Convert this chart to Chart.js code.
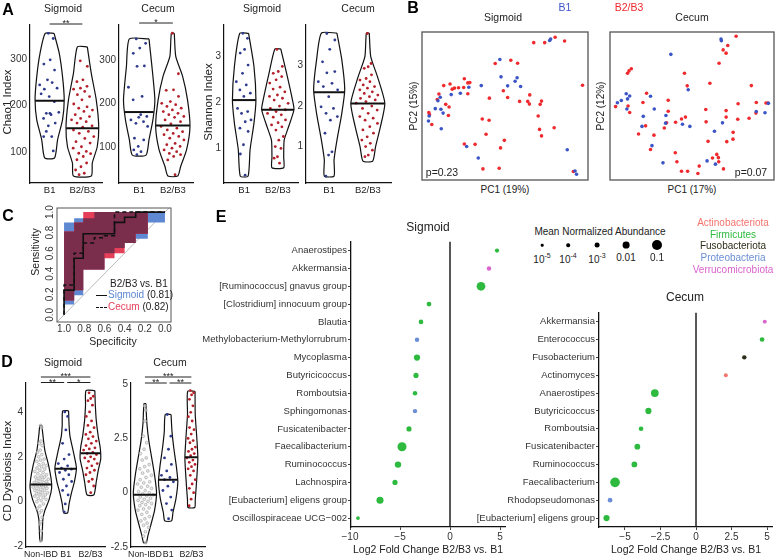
<!DOCTYPE html>
<html>
<head>
<meta charset="utf-8">
<title>Figure</title>
<script src="https://cdn.jsdelivr.net/npm/chart.js@4.4.1/dist/chart.umd.min.js"></script>
<style>
  html, body { margin:0; padding:0; background:#fff; }
  body { position:relative; width:777px; height:560px; overflow:hidden; font-family:'Liberation Sans', Arial, sans-serif; color:#222; }
  canvas { position:absolute; }
  .t { position:absolute; white-space:nowrap; transform:translate(-50%,-50%); line-height:1; }
  .v { position:absolute; white-space:nowrap; transform:translate(-50%,-50%) rotate(-90deg); line-height:1; }
  .l { position:absolute; white-space:nowrap; transform:translateY(-50%); line-height:1; }
  .L { position:absolute; font-weight:bold; font-size:16px; transform:translate(-50%,-50%); line-height:1; color:#000; }
  .ln { display:inline-block; width:11px; border-top:1.5px solid #111; vertical-align:middle; margin-right:1px; }
  .dash { border-top-style:dashed; }
  .dot { position:absolute; border-radius:50%; background:#000; transform:translate(-50%,-50%); }
  sup { font-size:7px; vertical-align:5px; }
</style>
</head>
<body>
<canvas id="a1" width="106" height="200" style="left:0;top:0"></canvas>
<canvas id="a2" width="107" height="200" style="left:90px;top:0"></canvas>
<canvas id="a3" width="106" height="200" style="left:196px;top:0"></canvas>
<canvas id="a4" width="105" height="200" style="left:290px;top:0"></canvas>
<canvas id="b1" width="174" height="156" style="left:418px;top:28px"></canvas>
<canvas id="b2" width="172" height="156" style="left:606px;top:28px"></canvas>
<canvas id="roc" width="150" height="140" style="left:25px;top:200px"></canvas>
<canvas id="d1" width="110" height="200" style="left:0;top:360px"></canvas>
<canvas id="d2" width="106" height="200" style="left:104px;top:360px"></canvas>
<canvas id="e1" width="340" height="325" style="left:170px;top:235px"></canvas>
<canvas id="e2" width="307" height="254" style="left:470px;top:306px"></canvas>

<!-- A -->
<div class="L" style="left:8px;top:10px">A</div>
<div class="t" style="left:63px;top:8px;font-size:10.5px">Sigmoid</div>
<div class="t" style="left:158px;top:8px;font-size:10.5px">Cecum</div>
<div class="t" style="left:262px;top:8px;font-size:10.5px">Sigmoid</div>
<div class="t" style="left:358px;top:8px;font-size:10.5px">Cecum</div>
<div class="v" style="left:8px;top:102px;font-size:11.5px">Chao1 Index</div>
<div class="v" style="left:209px;top:102px;font-size:11.5px">Shannon Index</div>
<!-- B -->
<div class="L" style="left:413px;top:8px">B</div>
<div class="t" style="left:565px;top:7px;font-size:10.5px;color:#3B55C6">B1</div>
<div class="t" style="left:629px;top:7px;font-size:10.5px;color:#EE2A2E">B2/B3</div>
<div class="t" style="left:503px;top:17px;font-size:10.5px">Sigmoid</div>
<div class="t" style="left:692px;top:17px;font-size:10.5px">Cecum</div>
<div class="v" style="left:414px;top:106px;font-size:10px">PC2 (15%)</div>
<div class="v" style="left:601px;top:106px;font-size:10px">PC2 (12%)</div>
<div class="t" style="left:505px;top:190px;font-size:10px">PC1 (19%)</div>
<div class="t" style="left:692px;top:190px;font-size:10px">PC1 (17%)</div>
<div class="t" style="left:442px;top:172px;font-size:10.5px">p=0.23</div>
<div class="t" style="left:751px;top:172px;font-size:10.5px">p=0.07</div>
<!-- C -->
<div class="L" style="left:8px;top:216px">C</div>
<div class="v" style="left:35px;top:252px;font-size:10.5px">Sensitivity</div>
<div class="t" style="left:113px;top:341px;font-size:10.5px">Specificity</div>
<div class="l" style="left:110px;top:284px;font-size:10px">B2/B3 vs. B1</div>
<div class="l" style="left:96px;top:295px;font-size:10px"><span class="ln"></span><span style="color:#5E88D2">Sigmoid</span> (0.81)</div>
<div class="l" style="left:96px;top:307px;font-size:10px"><span class="ln dash"></span><span style="color:#E63F5A">Cecum</span> (0.82)</div>
<!-- D -->
<div class="L" style="left:7px;top:362px">D</div>
<div class="t" style="left:63px;top:362px;font-size:10.5px">Sigmoid</div>
<div class="t" style="left:170px;top:362px;font-size:10.5px">Cecum</div>
<div class="v" style="left:8px;top:471px;font-size:11.5px">CD Dysbiosis Index</div>
<!-- E -->
<div class="L" style="left:221px;top:217px">E</div>
<div class="t" style="left:428px;top:227px;font-size:12px">Sigmoid</div>
<div class="t" style="left:685px;top:297px;font-size:12px">Cecum</div>
<div class="t" style="left:428px;top:549px;font-size:10.5px">Log2 Fold Change B2/B3 vs. B1</div>
<div class="t" style="left:686px;top:549px;font-size:10.5px">Log2 Fold Change B2/B3 vs. B1</div>
<div class="t" style="left:600px;top:232px;font-size:10px">Mean Normalized Abundance</div>
<div id="legend"></div>

<script>
const FONT = "'Liberation Sans', Arial, sans-serif";
Chart.defaults.font.family = FONT;
Chart.defaults.font.size = 10;
Chart.defaults.color = '#333';
Chart.defaults.animation = false;
Chart.defaults.events = [];
Chart.defaults.plugins.legend.display = false;
Chart.defaults.plugins.tooltip.enabled = false;

// ---- A: alpha diversity (B1 vs B2/B3) ----
const groupsA = ['B1', 'B2/B3'];
const chaoSigmoidB1 = [355,344,298,289,276,255,244,249,235,237,219,225,208,183,185,180,172,162,156,133,133,144,102,183];
const chaoSigmoidB23 = [296,284,255,251,241,237,235,230,223,219,212,203,197,194,190,187,180,176,172,169,165,162,156,153,147,144,140,133,129,122,119,111,108,101,97,96,90,83,76,68,61,54,51];
const chaoCecumB1 = [348,338,327,315,286,285,237,216,208,170,168,162,158,154,147,174,120,116,101,93,89,82];
const chaoCecumB23 = [361,268,231,230,216,204,200,197,193,189,185,181,177,174,170,168,162,158,153,147,143,139,135,131,128,124,120,116,108,105,101,97,93,89,85,82,78,70,36];
const shannonSigmoidB1 = [3.49,3.38,3.14,3.06,2.80,2.62,2.44,2.37,2.26,2.19,2.12,1.86,1.79,1.75,1.61,1.57,1.43,1.36,1.07,0.87,0.41];
const shannonSigmoidB23 = [3.14,2.77,2.66,2.62,2.55,2.48,2.41,2.32,2.28,2.22,2.15,2.12,2.08,2.04,1.97,1.91,1.86,1.83,1.79,1.75,1.72,1.67,1.61,1.55,1.50,1.46,1.39,1.25,1.17,1.03,0.99,0.81,0.78,0.67];
const shannonCecumB1 = [3.79,3.63,3.40,3.09,2.85,2.82,2.60,2.56,2.48,2.40,2.23,1.98,1.94,1.82,1.74,1.65,1.33,0.87,0.79,0.27];
const shannonCecumB23 = [3.79,3.05,2.97,2.93,2.77,2.68,2.64,2.60,2.52,2.48,2.44,2.40,2.35,2.31,2.27,2.23,2.19,2.15,2.11,2.07,2.0,1.94,1.90,1.82,1.74,1.70,1.65,1.57,1.49,1.41,1.33,1.24,1.16,1.08,1.0,0.91,0.79,0.75];
const chaoSigmoidMed = [210, 151];
const chaoCecumMed = [180, 149];
const shannonSigmoidMed = [2.04, 1.83];
const shannonCecumMed = [2.34, 2.06];
// violin outlines: [value, relative density]
const chaoSigmoidShape = [
  [[355,4.5],[312,9.7],[262,13],[212,14.7],[169,13],[126,8],[87,5]],
  [[326,5],[269,9],[212,14],[154,16.5],[111,15],[76,10],[48,9]]];
const chaoCecumShape = [
  [[348,10],[285,13],[208,16],[162,14],[116,10],[81,7]],
  [[361,1.5],[308,3],[262,10],[208,15],[147,17.5],[93,14],[55,8],[33,5]]];
const shannonSigmoidShape = [
  [[3.49,4.5],[2.77,10],[2.04,12],[1.54,10],[0.96,6],[0.39,4]],
  [[3.15,3],[2.62,9],[2.04,15],[1.83,16.5],[1.46,11],[1.17,6.5],[0.8,6],[0.57,6]]];
const shannonCecumShape = [
  [[3.8,8],[3.14,13],[2.4,16],[1.82,13],[1.16,8],[0.67,5],[0.27,5]],
  [[3.8,1.5],[3.22,3],[2.72,10],[2.07,17.5],[1.49,13],[1.0,8],[0.64,5]]];

// ---- D: dysbiosis index ----
const groupsD = ['Non-IBD', 'B1', 'B2/B3'];
const dysSigmoidNon = [3.4,3.3,2.7,2.6,2.5,2.3,2.2,2.1,2.0,1.9,1.85,1.8,1.7,1.65,1.6,1.55,1.5,1.45,1.4,1.35,1.3,1.25,1.2,1.15,1.1,1.1,1.05,1.0,1.0,0.95,0.9,0.9,0.85,0.85,0.8,0.8,0.75,0.75,0.7,0.7,0.65,0.65,0.6,0.6,0.55,0.5,0.5,0.45,0.4,0.4,0.35,0.3,0.3,0.25,0.2,0.15,0.1,0.05,0.0,-0.1,-0.2,-0.3,-0.4,-0.5,-0.7,-0.9,-1.0,-1.3,-1.75];
const dysSigmoidB1 = [4.0,3.8,3.2,2.6,2.1,1.9,1.7,1.6,1.5,1.45,1.4,1.3,1.2,1.0,0.9,0.7,0.5,0.3,-0.1,-0.45];
const dysSigmoidB23 = [4.85,4.7,4.6,4.5,4.3,4.0,3.8,3.6,3.4,3.3,3.1,3.0,2.9,2.8,2.7,2.6,2.5,2.4,2.35,2.3,2.2,2.15,2.1,2.0,1.95,1.9,1.8,1.7,1.6,1.5,1.4,1.3,1.2,1.0,0.9,0.7,0.4];
const dysCecumNon = [4.0,3.8,3.3,2.6,2.3,2.0,1.8,1.6,1.5,1.3,1.2,1.1,1.0,0.9,0.8,0.7,0.6,0.5,0.45,0.4,0.3,0.25,0.2,0.1,0.05,0.0,-0.05,-0.1,-0.15,-0.2,-0.25,-0.3,-0.35,-0.4,-0.45,-0.5,-0.55,-0.6,-0.7,-0.75,-0.8,-0.9,-1.0,-1.1,-1.2,-1.3,-1.4,-1.5,-1.6,-1.8,-2.0,-2.3];
const dysCecumB1 = [3.6,2.6,2.0,1.6,1.3,1.0,0.8,0.7,0.6,0.5,0.3,0.1,-0.2,-0.5,-0.8,-1.2];
const dysCecumB23 = [4.7,4.6,4.5,4.3,4.0,3.7,3.5,3.3,3.0,2.9,2.7,2.5,2.4,2.3,2.1,2.0,1.9,1.8,1.7,1.6,1.5,1.4,1.3,1.2,1.1,1.0,0.8,0.6,0.4,0.2,0.0,-0.3,-0.6];
const dysSigmoidMed = [0.77, 1.47, 2.16];
const dysCecumMed = [-0.1, 0.6, 1.63];
const dysSigmoidShape = [
  [[3.4,1],[3.0,2],[2.3,4],[1.6,8],[1.0,10.5],[0.6,11],[0.1,8.5],[-0.4,4],[-0.8,2],[-1.75,1]],
  [[4.05,3],[3.4,3.5],[2.9,4.5],[2.2,8],[1.5,11],[0.9,9],[0.4,6],[-0.1,3.5],[-0.5,2]],
  [[4.95,4.5],[4.3,5],[3.6,6],[2.9,8],[2.4,10],[1.9,10.5],[1.4,8],[0.9,6],[0.3,3.5]]];
const dysCecumShape = [
  [[4.1,1],[3.2,2],[2.4,4],[1.6,7],[0.8,10],[0.0,12],[-0.8,10],[-1.5,6],[-2.0,3],[-2.3,1.5]],
  [[3.6,3],[2.8,4],[2.0,6],[1.2,8.5],[0.5,10],[-0.3,8],[-0.9,5],[-1.3,3.5]],
  [[4.67,3.8],[3.6,4],[2.6,5.5],[1.6,6.7],[0.6,5.5],[-0.35,4],[-0.68,3.5]]];

// ---- B: PCA (scores scaled to the plot box, 0-100) ----
const sigmoidB23Pc1 = [67.3,73.9,80.2,85.9,44.1,53.5,57.6,25.5,28.8,27.6,13.1,16.9,19.6,18.2,22.0,25.1,10.2,27.6,40.6,49.0,51.6,58.8,64.9,63.7,64.7,72.0,71.2,9.2,14.3,16.3,4.1,4.5,15.9,5.9,36.3,40.4,70.0,70.8,79.6,72.0,38.6,49.6,47.3,25.5,32.0,36.7,46.5,91.2,96.7];
const sigmoidB23Pc2 = [92.8,92.8,96.5,93.9,78.7,80.9,78.9,68.4,65.8,65.6,63.8,64.9,62.1,61.4,62.3,62.5,58.1,58.3,55.3,60.3,55.7,53.1,57.5,53.1,51.3,53.3,51.1,54.4,51.1,49.3,45.6,44.3,43.6,37.5,41.2,40.4,43.2,34.2,35.3,29.8,30.9,26.8,21.7,24.3,24.1,7.5,7.9,5.7,64.0];
const sigmoidB1Pc1 = [76.9,77.5,46.9,47.6,56.1,57.3,51.6,59.4,35.7,28.2,23.1,17.6,11.0,9.6,8.0,11.4,12.7,4.3,3.9,11.6,26.9,33.9,87.5,92.2,93.1];
const sigmoidB1Pc2 = [94.3,95.2,81.4,69.7,66.7,69.1,63.6,63.2,63.8,62.7,58.6,57.7,55.9,53.5,48.2,47.8,45.2,43.2,39.9,34.6,22.6,14.9,20.4,6.1,3.9];
const cecumB23Pc1 = [76.9,71.8,69.0,70.8,66.5,13.0,11.6,10.7,45.4,47.1,60.9,86.2,22.3,3.4,11.0,12.0,20.1,35.5,35.5,58.4,70.8,78.1,89.2,95.1,96.3,89.0,46.0,43.6,40.0,34.5,33.1,21.7,17.4,26.8,24.7,58.6,70.8,77.9,84.8,75.1,75.0,71.2,59.8,39.8,40.8,43.6,47.3,53.6,54.4,65.1,66.1,62.5,66.3,69.2];
const cecumB23Pc2 = [97.1,90.9,87.9,85.7,78.9,75.2,73.7,72.1,72.1,63.6,65.4,63.8,58.6,49.6,50.0,45.6,52.4,53.9,46.5,47.6,46.9,51.5,52.4,52.0,52.0,45.2,42.5,41.2,39.0,38.6,35.1,36.6,31.1,30.3,20.6,39.3,42.5,41.0,41.7,32.2,27.6,25.9,26.1,18.4,12.3,5.9,5.9,4.4,9.4,17.3,15.1,14.9,12.3,7.5];
const cecumB1Pc1 = [67.7,67.9,37.1,47.7,9.9,12.0,6.9,4.5,10.7,10.3,24.7,27.0,20.3,34.1,19.5,33.9,44.2,48.7,63.7,68.6,25.6,32.3,59.2,64.3,89.2,94.5,96.6];
const cecumB1Pc2 = [95.2,94.1,84.9,61.0,58.3,56.8,53.7,52.2,54.8,48.0,56.6,48.0,43.0,43.6,36.2,38.4,37.7,36.2,32.9,38.6,23.2,11.6,12.9,10.7,46.3,45.4,51.8];

// ---- C: ROC ----
const rocTicks = [0, 0.2, 0.4, 0.6, 0.8, 1.0];
const rocSpec = [1.0, 0.9, 0.81, 0.7, 0.6, 0.5, 0.4, 0.29, 0.17, 0.0];
const sigmoidSens = [0.24, 0.55, 0.79, 0.79, 0.79, 0.90, 0.95, 1, 1];
const cecumSens = [0.29, 0.60, 0.70, 0.75, 0.77, 1, 1, 1, 1];
const sigmoidCiLow = [0.10, 0.19, 0.44, 0.44, 0.60, 0.65, 0.70, 0.74, 0.90];
const sigmoidCiHigh = [0.90, 0.94, 0.94, 1, 1, 1, 1, 1, 1];
const cecumCiLow = [0.14, 0.24, 0.44, 0.44, 0.55, 0.60, 0.70, 0.79, 1.0];
const cecumCiHigh = [0.81, 0.90, 1, 1, 1, 1, 1, 1, 1];

// ---- E: differential genera ----
const sigmoidTaxa = ['Anaerostipes','Akkermansia','[Ruminococcus] gnavus group','[Clostridium] innocuum group','Blautia','Methylobacterium-Methylorrubrum','Mycoplasma','Butyricicoccus','Romboutsia','Sphingomonas','Fusicatenibacter','Faecalibacterium','Ruminococcus','Lachnospira','[Eubacterium] eligens group','Oscillospiraceae UCG\u2212002'];
const sigmoidLfc = [4.7, 3.9, 3.1, -2.1, -2.9, -3.3, -3.3, -3.4, -3.5, -3.5, -4.1, -4.8, -5.2, -5.5, -7.0, -9.2];
const sigmoidPhylum = ['Firmicutes','Verrucomicrobiota','Firmicutes','Firmicutes','Firmicutes','Proteobacteria','Firmicutes','Firmicutes','Firmicutes','Proteobacteria','Firmicutes','Firmicutes','Firmicutes','Firmicutes','Firmicutes','Firmicutes'];
const sigmoidAbund = [3e-4, 5e-4, 0.04, 1e-3, 8e-4, 5e-4, 5e-3, 1.5e-3, 6e-4, 5e-4, 1.5e-3, 0.05, 6e-3, 1.5e-3, 0.012, 1.5e-4];
const cecumTaxa = ['Akkermansia','Enterococcus','Fusobacterium','Actinomyces','Anaerostipes','Butyricicoccus','Romboutsia','Fusicatenibacter','Ruminococcus','Faecalibacterium','Rhodopseudomonas','[Eubacterium] eligens group'];
const cecumLfc = [4.84, 4.65, 3.4, 2.1, -2.9, -3.35, -3.87, -4.13, -4.34, -5.7, -6.05, -6.3];
const cecumPhylum = ['Verrucomicrobiota','Firmicutes','Fusobacteriota','Actinobacteriota','Firmicutes','Firmicutes','Firmicutes','Firmicutes','Firmicutes','Firmicutes','Proteobacteria','Firmicutes'];
const cecumAbund = [2e-4, 8e-4, 5e-4, 2e-4, 0.02, 5e-3, 8e-4, 3e-3, 3e-3, 0.08, 8e-4, 5e-3];
const legendAbund = [1e-5, 1e-4, 1e-3, 0.01, 0.1];
const legendAbundText = ['10<sup>-5</sup>', '10<sup>-4</sup>', '10<sup>-3</sup>', '0.01', '0.1'];

const phylumColors = {
  Actinobacteriota: '#F3756F',
  Firmicutes: '#2DBA3F',
  Fusobacteriota: '#2E2E1A',
  Proteobacteria: '#6B8ED6',
  Verrucomicrobiota: '#DA64CD'
};

// ---------- helpers ----------
function halfAt(shape, v) {
  if (v >= shape[0][0]) return shape[0][1];
  for (let i = 1; i < shape.length; i++) {
    if (v >= shape[i][0]) {
      const [v0, w0] = shape[i - 1], [v1, w1] = shape[i];
      return w1 + (w0 - w1) * (v - v1) / (v0 - v1);
    }
  }
  return shape[shape.length - 1][1];
}
function outline(shape, c, k) {
  const right = shape.map(([v, w]) => ({ x: c + w * k, y: v }));
  const left = shape.slice().reverse().map(([v, w]) => ({ x: c - w * k, y: v }));
  return right.concat(left, [right[0]]);
}
const jit = j => ((j * 0.6180339 + 0.3) % 1) - 0.5;

const sigPlugin = {
  id: 'sig',
  afterDraw(chart, args, opts) {
    const { ctx, chartArea, scales: { x } } = chart;
    (opts.bars || []).forEach(b => {
      const y = chartArea.top - b.dy;
      const x1 = x.getPixelForValue(b.from), x2 = x.getPixelForValue(b.to);
      ctx.save();
      ctx.strokeStyle = '#222'; ctx.lineWidth = 1;
      ctx.beginPath(); ctx.moveTo(x1, y); ctx.lineTo(x2, y); ctx.stroke();
      ctx.fillStyle = '#222'; ctx.font = '9px ' + FONT; ctx.textAlign = 'center';
      ctx.fillText(b.label, (x1 + x2) / 2, y + 2);
      ctx.restore();
    });
  }
};

const framePlugin = {
  id: 'frame',
  afterDatasetsDraw(chart, args, o) {
    const { ctx, chartArea: c } = chart;
    ctx.save();
    ctx.strokeStyle = o.color || '#555'; ctx.lineWidth = o.width || 1;
    ctx.strokeRect(c.left, c.top, c.right - c.left, c.bottom - c.top);
    ctx.restore();
  }
};

const zeroPlugin = {
  id: 'zero',
  beforeDatasetsDraw(chart) {
    const { ctx, chartArea: c, scales: { x } } = chart;
    const px = x.getPixelForValue(0);
    ctx.save();
    ctx.strokeStyle = '#111'; ctx.lineWidth = 1.4;
    ctx.beginPath(); ctx.moveTo(px, c.top); ctx.lineTo(px, c.bottom); ctx.stroke();
    ctx.restore();
  }
};

const rocYPlugin = {
  id: 'rocy',
  afterDraw(chart) {
    const { ctx, chartArea: c, scales: { y } } = chart;
    ctx.save();
    ctx.fillStyle = '#333'; ctx.font = '10px ' + FONT;
    ctx.textAlign = 'center'; ctx.textBaseline = 'middle';
    rocTicks.forEach(v => {
      ctx.save();
      ctx.translate(c.left - 7, y.getPixelForValue(v));
      ctx.rotate(-Math.PI / 2);
      ctx.fillText(v.toFixed(1), 0, 0);
      ctx.restore();
    });
    ctx.restore();
  }
};

function violin(id, cats, groups, o) {
  const maxD = Math.max(...groups.flatMap(g => g.shape.map(s => s[1])));
  const k = o.half / maxD;
  const ds = [];
  groups.forEach((g, i) => {
    const c = i + 1;
    const w = v => halfAt(g.shape, v) * k;
    ds.push({ data: outline(g.shape, c, k), showLine: true, borderColor: '#111', borderWidth: 1.2,
              pointRadius: 0, tension: 0.2, order: 3 });
    ds.push({ data: g.pts.map((v, j) => ({ x: c + jit(j) * 1.5 * w(v), y: v })),
              pointRadius: g.r || 1.4, pointBackgroundColor: g.fill, pointBorderColor: g.color,
              pointBorderWidth: g.bw || 0, order: 2 });
    ds.push({ data: [{ x: c - w(g.median), y: g.median }, { x: c + w(g.median), y: g.median }],
              showLine: true, borderColor: '#111', borderWidth: 2, pointRadius: 0, order: 1 });
  });
  return new Chart(document.getElementById(id), {
    type: 'scatter',
    data: { datasets: ds },
    options: {
      responsive: false,
      layout: { padding: { top: o.top, right: o.right, left: 0, bottom: 0 } },
      scales: {
        x: {
          type: 'linear', min: 0.4, max: cats.length + 0.6,
          afterBuildTicks: s => { s.ticks = cats.map((_, i) => ({ value: i + 1 })); },
          ticks: { callback: v => cats[v - 1], font: { size: o.xfs || 9.5 }, color: '#222', padding: 2, maxRotation: 0, autoSkip: false },
          grid: { display: false, drawTicks: false },
          border: { color: '#111', width: 1.2 },
          afterFit: s => { s.height = o.xh; }
        },
        y: {
          min: o.min, max: o.max,
          afterBuildTicks: s => { s.ticks = o.ticks.map(v => ({ value: v })); },
          ticks: { font: { size: 10 }, color: '#333', padding: 3 },
          grid: { display: false, drawTicks: false },
          border: { color: '#111', width: 1.2 },
          afterFit: s => { s.width = o.yw; }
        }
      },
      plugins: { sig: { bars: o.bars || [] } }
    },
    plugins: [sigPlugin]
  });
}

const colB1 = '#2E3A8C', colB23 = '#B3202A';
function abGroups(b1, b23, med, shape) {
  return [
    { pts: b1, median: med[0], shape: shape[0], fill: colB1, color: colB1 },
    { pts: b23, median: med[1], shape: shape[1], fill: colB23, color: colB23 }
  ];
}

// ---------- A ----------
violin('a1', groupsA, abGroups(chaoSigmoidB1, chaoSigmoidB23, chaoSigmoidMed, chaoSigmoidShape),
  { half: 0.50, min: 33, max: 373, ticks: [100, 200, 300], top: 25, right: 3, yw: 30, xh: 17,
    bars: [{ from: 1, to: 2, dy: 1, label: '**' }] });
violin('a2', groupsA, abGroups(chaoCecumB1, chaoCecumB23, chaoCecumMed, chaoCecumShape),
  { half: 0.51, min: 17, max: 380, ticks: [100, 200, 300], top: 25, right: 2, yw: 29, xh: 17,
    bars: [{ from: 1, to: 2, dy: 2, label: '*' }] });
violin('a3', groupsA, abGroups(shannonSigmoidB1, shannonSigmoidB23, shannonSigmoidMed, shannonSigmoidShape),
  { half: 0.48, min: 0.24, max: 3.67, ticks: [1, 2, 3], top: 25, right: 2, yw: 28, xh: 17 });
violin('a4', groupsA, abGroups(shannonCecumB1, shannonCecumB23, shannonCecumMed, shannonCecumShape),
  { half: 0.44, min: 0.1, max: 4.0, ticks: [1, 2, 3], top: 25, right: 2, yw: 16, xh: 17 });

// ---------- D ----------
const colNon = '#A8A8A8';
function dGroups(non, b1, b23, med, shape) {
  return [
    { pts: non, median: med[0], shape: shape[0], fill: 'rgba(215,215,215,0.5)', color: colNon, bw: 0.7, r: 1.4 },
    { pts: b1, median: med[1], shape: shape[1], fill: colB1, color: colB1 },
    { pts: b23, median: med[2], shape: shape[2], fill: colB23, color: colB23 }
  ];
}
violin('d1', groupsD, dGroups(dysSigmoidNon, dysSigmoidB1, dysSigmoidB23, dysSigmoidMed, dysSigmoidShape),
  { half: 0.435, min: -2.02, max: 5.29, ticks: [-2, 0, 2, 4], top: 23, right: 3, yw: 26, xh: 13, xfs: 8.8,
    bars: [{ from: 1, to: 3, dy: 6, label: '***' }, { from: 1, to: 1.94, dy: 0.5, label: '**' }, { from: 2.06, to: 3, dy: 0.5, label: '*' }] });
violin('d2', groupsD, dGroups(dysCecumNon, dysCecumB1, dysCecumB23, dysCecumMed, dysCecumShape),
  { half: 0.5, min: -2.5, max: 5.05, ticks: [-2.5, 0, 2.5, 5], top: 23, right: 2, yw: 27, xh: 13, xfs: 8.8,
    bars: [{ from: 1, to: 3, dy: 6, label: '***' }, { from: 1, to: 1.94, dy: 0, label: '**' }, { from: 2.06, to: 3, dy: 0, label: '**' }] });

// ---------- B ----------
const zip = (a, b) => a.map((v, i) => ({ x: v, y: b[i] }));
function pca(id, redPts, bluePts) {
  return new Chart(document.getElementById(id), {
    type: 'scatter',
    data: { datasets: [
      { data: bluePts, pointRadius: 1.8, pointBackgroundColor: '#3B55C6', pointBorderWidth: 0 },
      { data: redPts, pointRadius: 1.8, pointBackgroundColor: '#EE2A2E', pointBorderWidth: 0 }
    ] },
    options: {
      responsive: false,
      layout: { padding: 2 },
      scales: { x: { display: false, min: 0, max: 100 }, y: { display: false, min: 0, max: 100 } },
      plugins: { frame: { color: '#555', width: 1.3 } }
    },
    plugins: [framePlugin]
  });
}
pca('b1', zip(sigmoidB23Pc1, sigmoidB23Pc2), zip(sigmoidB1Pc1, sigmoidB1Pc2));
pca('b2', zip(cecumB23Pc1, cecumB23Pc2), zip(cecumB1Pc1, cecumB1Pc2));

// ---------- C ----------
function stairs(vals) {
  const pts = [];
  vals.forEach((v, i) => { pts.push({ x: rocSpec[i], y: v }); pts.push({ x: rocSpec[i + 1], y: v }); });
  return pts;
}
function band(lo, hi) {
  const top = stairs(hi), bot = stairs(lo).reverse();
  return top.concat(bot, [top[0]]);
}
const bothLow = sigmoidCiLow.map((v, i) => Math.max(v, cecumCiLow[i]));
const bothHigh = sigmoidCiHigh.map((v, i) => Math.min(v, cecumCiHigh[i]));
const noLine = { borderWidth: 0, borderColor: 'rgba(0,0,0,0)', pointRadius: 0, fill: 'shape' };
new Chart(document.getElementById('roc'), {
  type: 'line',
  data: { datasets: [
    { data: [{ x: 1.07, y: -0.07 }, { x: -0.06, y: 1.06 }], borderColor: '#BBBBBB', borderWidth: 1, pointRadius: 0, order: 6 },
    Object.assign({ data: band(sigmoidCiLow, sigmoidCiHigh), backgroundColor: '#5E88D2', order: 5 }, noLine),
    Object.assign({ data: band(cecumCiLow, cecumCiHigh), backgroundColor: '#E63F5A', order: 4 }, noLine),
    Object.assign({ data: band(bothLow, bothHigh), backgroundColor: '#7B2D4C', order: 3 }, noLine),
    { data: [{ x: 1, y: 0 }].concat(stairs(sigmoidSens)), borderColor: '#111', borderWidth: 1.6, pointRadius: 0, order: 1 },
    { data: [{ x: 1, y: 0 }].concat(stairs(cecumSens)), borderColor: '#111', borderWidth: 1.5, borderDash: [4, 3], pointRadius: 0, order: 0 }
  ] },
  options: {
    responsive: false,
    layout: { padding: { left: 32, top: 8, right: 4 } },
    elements: { line: { tension: 0 } },
    scales: {
      x: {
        type: 'linear', reverse: true, min: -0.06, max: 1.07,
        afterBuildTicks: s => { s.ticks = rocTicks.map(v => ({ value: v })); },
        ticks: { callback: v => v.toFixed(1), font: { size: 10 }, color: '#333', padding: 1, maxRotation: 0 },
        grid: { display: false, drawTicks: false }, border: { display: false },
        afterFit: s => { s.height = 18; }
      },
      y: { type: 'linear', display: false, min: -0.07, max: 1.04 }
    },
    plugins: { frame: { color: '#555', width: 1 } }
  },
  plugins: [framePlugin, rocYPlugin]
});

// ---------- E ----------
const sizeLog = [-5, -4, -3, -2, -1];
const sizeRadius = [1.3, 1.8, 2.4, 3.4, 5.0];
function sizeFor(a) {
  const l = Math.log10(a);
  if (l <= sizeLog[0]) return sizeRadius[0];
  for (let i = 1; i < sizeLog.length; i++) {
    if (l <= sizeLog[i]) return sizeRadius[i - 1] + (sizeRadius[i] - sizeRadius[i - 1]) * (l - sizeLog[i - 1]);
  }
  return sizeRadius[sizeRadius.length - 1];
}
const minus = v => (v < 0 ? '\u2212' + Math.abs(v) : String(v));
function dots(id, taxa, lfc, phylum, abund, o) {
  const axisGrid = { display: true, drawOnChartArea: false, drawTicks: true, tickLength: 3, color: '#444' };
  return new Chart(document.getElementById(id), {
    type: 'scatter',
    data: { datasets: [{
      data: taxa.map((t, i) => ({ x: lfc[i], y: t })),
      pointRadius: abund.map(sizeFor),
      pointBackgroundColor: phylum.map(p => phylumColors[p]),
      pointBorderWidth: 0
    }] },
    options: {
      responsive: false,
      layout: { padding: { top: 5, right: 5 } },
      scales: {
        x: {
          min: o.min, max: o.max,
          afterBuildTicks: s => { s.ticks = o.ticks.map(v => ({ value: v })); },
          ticks: { callback: minus, font: { size: 10 }, color: '#333', padding: 1, maxRotation: 0 },
          grid: axisGrid, border: { color: '#111', width: 1.3 },
          afterFit: s => { s.height = 33; }
        },
        y: {
          type: 'category', labels: taxa, offset: true,
          ticks: { autoSkip: false, font: { size: 9.5 }, color: '#333', padding: 1 },
          grid: axisGrid, border: { color: '#111', width: 1.3 },
          afterFit: s => { s.width = o.yw; }
        }
      }
    },
    plugins: [zeroPlugin]
  });
}
dots('e1', sigmoidTaxa, sigmoidLfc, sigmoidPhylum, sigmoidAbund, { min: -9.9, max: 5.5, ticks: [-10, -5, 0, 5], yw: 181 });
dots('e2', cecumTaxa, cecumLfc, cecumPhylum, cecumAbund, { min: -6.83, max: 5.35, ticks: [-5, -2.5, 0, 2.5, 5], yw: 129 });

// legends for E
const legendAbundX = [542, 568, 597, 626, 657];
const lg = document.getElementById('legend');
legendAbund.forEach((a, i) => {
  const r = sizeFor(a);
  const d = document.createElement('div');
  d.className = 'dot';
  d.style.cssText = `left:${legendAbundX[i]}px;top:245px;width:${2 * r}px;height:${2 * r}px`;
  lg.appendChild(d);
  const t = document.createElement('div');
  t.className = 't';
  t.style.cssText = `left:${legendAbundX[i]}px;top:258px;font-size:10px`;
  t.innerHTML = legendAbundText[i];
  lg.appendChild(t);
});
Object.keys(phylumColors).forEach((p, i) => {
  const t = document.createElement('div');
  t.className = 't';
  t.style.cssText = `left:733px;top:${223 + i * 11.7}px;font-size:10px;color:${phylumColors[p]}`;
  t.textContent = p;
  lg.appendChild(t);
});
</script>
</body>
</html>
